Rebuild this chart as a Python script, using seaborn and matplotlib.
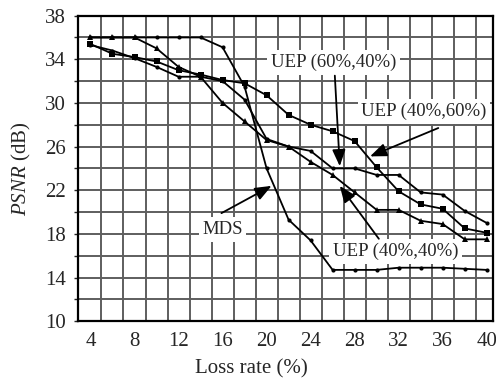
import numpy as np
import matplotlib
matplotlib.use('Agg')
import matplotlib.pyplot as plt
import seaborn as sns
import pandas as pd

# data
loss_rate = [4, 6, 8, 10, 12, 14, 16, 18, 20, 22, 24, 26, 28, 30, 32, 34, 36, 38, 40]
mds = [36.0, 36.0, 36.0, 36.0, 36.0, 36.0, 35.1, 31.5, 24.0, 19.3, 17.4, 14.7, 14.7, 14.7, 14.9, 14.9, 14.9, 14.8, 14.7]
uep_60_40 = [35.3, 34.8, 34.1, 33.3, 32.4, 32.4, 32.0, 30.3, 26.7, 26.0, 25.6, 24.0, 24.0, 23.4, 23.4, 21.8, 21.6, 20.1, 19.0]
uep_40_60 = [35.4, 34.5, 34.2, 33.8, 33.0, 32.6, 32.1, 31.8, 30.7, 28.9, 28.0, 27.4, 26.5, 24.1, 21.9, 20.7, 20.3, 18.5, 18.1]
uep_40_40 = [36.0, 36.0, 36.0, 35.0, 33.3, 32.4, 30.0, 28.3, 26.6, 26.0, 24.6, 23.4, 21.8, 20.2, 20.2, 19.2, 18.9, 17.5, 17.5]

x_ticks = [4, 8, 12, 16, 20, 24, 28, 32, 36, 40]
y_ticks = [10, 14, 18, 22, 26, 30, 34, 38]

sns.set_style('white')
plt.rcParams['font.family'] = ['Liberation Serif', 'DejaVu Serif']
plt.rcParams['mathtext.fontset'] = 'custom'
plt.rcParams['mathtext.rm'] = 'Liberation Serif'
plt.rcParams['mathtext.it'] = 'Liberation Serif:italic'

fig = plt.figure(figsize=(4.96, 3.81), dpi=100)
ax = fig.add_axes([0.158, 0.157, 0.8366, 0.802])

# series: (values, marker, marker size)
series = [
    (mds, 'o', 3),
    (uep_60_40, 'o', 3),
    (uep_40_60, 's', 5),
    (uep_40_40, '^', 4),
]
for vals, mk, ms in series:
    sns.lineplot(x=loss_rate, y=vals, ax=ax, color='black', lw=1.3,
                 marker=mk, markersize=ms, markeredgewidth=0, zorder=3)

ax.set_xlim(2.9, 40.6)
ax.set_ylim(10, 38)
ax.set_xticks(x_ticks)
ax.set_yticks(y_ticks)
ax.set_xticks(np.arange(5, 41, 2), minor=True)
ax.set_yticks(np.arange(10, 39, 2), minor=True)
ax.grid(which='minor', color='#5e5e5e', lw=1.4, zorder=0)
ax.grid(which='major', axis='y', color='#5e5e5e', lw=1.4, zorder=0)
ax.tick_params(axis='x', which='both', length=0, labelsize=15, pad=8)
ax.tick_params(axis='y', which='both', length=3, width=1, direction='out', labelsize=15, pad=6, left=True)
for s in ax.spines.values():
    s.set_linewidth(1.6)
    s.set_color('black')

ax.set_xlabel('Loss rate (%)', fontsize=15)
ax.xaxis.set_label_coords(0.416, -0.125)
ax.set_ylabel(r'$\it{PSNR}$ (dB)', fontsize=15)
ax.yaxis.set_label_coords(-0.11, 0.5)

box = dict(facecolor='white', edgecolor='none', pad=2.5)
arrow = dict(arrowstyle='-|>,head_length=1.0,head_width=0.4', color='black', lw=1.3, shrinkA=0, shrinkB=0)

labels = [
    ('UEP (60%,40%)', (26.1, 33.7), (26.2, 32.5), (26.65, 24.2)),
    ('UEP (40%,60%)', (34.3, 29.2), (35.6, 27.7), (29.4, 25.1)),
    ('MDS', (16.0, 18.4), (15.9, 19.9), (20.45, 22.4)),
    ('UEP (40%,40%)', (31.7, 16.4), (30.2, 17.55), (26.65, 22.4)),
]
for txt, pos, start, tip in labels:
    ax.text(pos[0], pos[1], txt, fontsize=13.5, ha='center', va='center', bbox=box, zorder=4)
    ax.annotate('', xy=tip, xytext=start, arrowprops=arrow, zorder=5)

fig.savefig('out.png', dpi=100)
